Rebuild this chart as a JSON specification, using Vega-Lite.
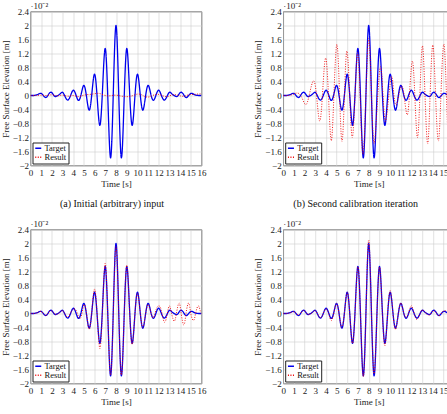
{
  "$schema": "https://vega.github.io/schema/vega-lite/v6.json",
  "background": "white",
  "padding": {"left": 0.5, "top": 0.5, "right": 0, "bottom": 0},
  "datasets": {
    "target": [
      {"t":0,"v":0},{"t":0.25,"v":0},{"t":0.5,"v":0.01},{"t":0.75,"v":0.04},{"t":1,"v":0.06},{"t":1.25,"v":-0.02},{"t":1.5,"v":-0.05},{"t":1.75,"v":0.06},{"t":2,"v":0.08},{"t":2.25,"v":-0.02},{"t":2.5,"v":-0.01},{"t":2.75,"v":0.04},{"t":3,"v":0.09},{"t":3.25,"v":-0.04},{"t":3.5,"v":-0.13},{"t":3.75,"v":0},{"t":4,"v":0.15},{"t":4.25,"v":0.02},{"t":4.5,"v":-0.14},{"t":4.75,"v":0.05},{"t":5,"v":0.29},{"t":5.25,"v":-0.05},{"t":5.5,"v":-0.42},{"t":5.75,"v":0.08},{"t":6,"v":0.61},{"t":6.25,"v":-0.11},{"t":6.5,"v":-0.85},{"t":6.75,"v":0.24},{"t":7,"v":1.34},{"t":7.25,"v":-0.21},{"t":7.5,"v":-1.78},{"t":7.75,"v":0.11},{"t":8,"v":2.0},{"t":8.25,"v":0.11},{"t":8.5,"v":-1.78},{"t":8.75,"v":-0.21},{"t":9,"v":1.34},{"t":9.25,"v":0.24},{"t":9.5,"v":-0.85},{"t":9.75,"v":-0.11},{"t":10,"v":0.61},{"t":10.25,"v":0.08},{"t":10.5,"v":-0.42},{"t":10.75,"v":-0.05},{"t":11,"v":0.29},{"t":11.25,"v":0.05},{"t":11.5,"v":-0.14},{"t":11.75,"v":0.02},{"t":12,"v":0.15},{"t":12.25,"v":0},{"t":12.5,"v":-0.13},{"t":12.75,"v":-0.04},{"t":13,"v":0.09},{"t":13.25,"v":0.04},{"t":13.5,"v":-0.01},{"t":13.75,"v":-0.02},{"t":14,"v":0.08},{"t":14.25,"v":0.06},{"t":14.5,"v":-0.05},{"t":14.75,"v":-0.02},{"t":15,"v":0.06},{"t":15.25,"v":0.04},{"t":15.5,"v":0.01},{"t":15.75,"v":0},{"t":16,"v":0}
    ],
    "ra": [
      {"t":0,"v":0},{"t":0.5,"v":0},{"t":1,"v":0.01},{"t":1.5,"v":0},{"t":2,"v":0.02},{"t":2.5,"v":-0.01},{"t":3,"v":0.01},{"t":3.5,"v":-0.02},{"t":4,"v":0},{"t":4.5,"v":-0.03},{"t":5,"v":0.01},{"t":5.5,"v":0.03},{"t":6,"v":0.05},{"t":6.4,"v":0.06},{"t":6.8,"v":0.02},{"t":7.2,"v":-0.01},{"t":7.6,"v":0},{"t":8,"v":0.01},{"t":8.4,"v":-0.01},{"t":8.8,"v":-0.03},{"t":9.2,"v":-0.03},{"t":9.6,"v":0},{"t":10,"v":0.04},{"t":10.4,"v":0.02},{"t":10.8,"v":-0.04},{"t":11.2,"v":-0.03},{"t":11.6,"v":0.02},{"t":12,"v":0.03},{"t":12.4,"v":-0.01},{"t":12.8,"v":-0.03},{"t":13.2,"v":0.01},{"t":13.6,"v":0.02},{"t":14,"v":-0.01},{"t":14.4,"v":-0.02},{"t":14.8,"v":0.02},{"t":15.2,"v":0.03},{"t":15.6,"v":0.04},{"t":16,"v":0.05}
    ],
    "rb": [
      {"t":0,"v":0},{"t":0.5,"v":0},{"t":0.9,"v":0.03},{"t":1.3,"v":0.07},{"t":1.7,"v":-0.03},{"t":2.1,"v":-0.26},{"t":2.45,"v":0.03},{"t":2.85,"v":0.42},{"t":3.15,"v":-0.1},{"t":3.43,"v":-0.73},{"t":3.7,"v":0.15},{"t":3.98,"v":1.07},{"t":4.25,"v":-0.1},{"t":4.5,"v":-1.29},{"t":4.75,"v":0.05},{"t":5.02,"v":1.46},{"t":5.27,"v":0.05},{"t":5.5,"v":-1.31},{"t":5.73,"v":0},{"t":5.96,"v":1.27},{"t":6.22,"v":0.02},{"t":6.46,"v":-1.2},{"t":6.72,"v":0},{"t":6.97,"v":1.22},{"t":7.22,"v":-0.2},{"t":7.47,"v":-1.68},{"t":7.74,"v":0},{"t":8,"v":1.63},{"t":8.25,"v":0.1},{"t":8.5,"v":-1.37},{"t":8.8,"v":-0.25},{"t":9.1,"v":0.82},{"t":9.33,"v":0.05},{"t":9.56,"v":-0.74},{"t":9.85,"v":-0.1},{"t":10.15,"v":0.54},{"t":10.33,"v":0.1},{"t":10.55,"v":-0.27},{"t":10.8,"v":0},{"t":11.1,"v":0.27},{"t":11.35,"v":-0.1},{"t":11.62,"v":-0.55},{"t":11.85,"v":0.2},{"t":12.1,"v":0.98},{"t":12.33,"v":-0.1},{"t":12.57,"v":-1.2},{"t":12.8,"v":0.1},{"t":13.03,"v":1.42},{"t":13.27,"v":0},{"t":13.52,"v":-1.38},{"t":13.75,"v":0.05},{"t":14,"v":1.44},{"t":14.25,"v":0.05},{"t":14.52,"v":-1.3},{"t":14.77,"v":0.1},{"t":15.03,"v":1.47},{"t":15.27,"v":0.05},{"t":15.5,"v":-1.35},{"t":15.75,"v":0.05},{"t":16,"v":1.4}
    ],
    "rc": [
      {"t":0,"v":0},{"t":0.25,"v":0},{"t":0.5,"v":0.01},{"t":0.75,"v":0.04},{"t":1,"v":0.06},{"t":1.25,"v":-0.02},{"t":1.5,"v":-0.05},{"t":1.75,"v":0.05},{"t":2,"v":0.07},{"t":2.25,"v":-0.01},{"t":2.5,"v":-0.02},{"t":2.75,"v":0.03},{"t":3,"v":0.08},{"t":3.25,"v":-0.03},{"t":3.5,"v":-0.1},{"t":3.75,"v":0.02},{"t":4,"v":0.12},{"t":4.25,"v":0.1},{"t":4.5,"v":-0.1},{"t":4.75,"v":-0.08},{"t":5,"v":0.25},{"t":5.25,"v":-0.02},{"t":5.5,"v":-0.45},{"t":5.75,"v":0.1},{"t":6,"v":0.7},{"t":6.25,"v":-0.1},{"t":6.5,"v":-1.0},{"t":6.75,"v":0.2},{"t":7,"v":1.43},{"t":7.25,"v":-0.2},{"t":7.5,"v":-1.75},{"t":7.75,"v":0.08},{"t":8,"v":1.92},{"t":8.25,"v":0.1},{"t":8.5,"v":-1.75},{"t":8.75,"v":-0.2},{"t":9,"v":1.38},{"t":9.25,"v":0.2},{"t":9.5,"v":-0.88},{"t":9.75,"v":-0.1},{"t":10,"v":0.58},{"t":10.25,"v":0.08},{"t":10.5,"v":-0.4},{"t":10.75,"v":-0.05},{"t":11,"v":0.26},{"t":11.25,"v":0.05},{"t":11.5,"v":-0.12},{"t":11.8,"v":0.15},{"t":12.1,"v":0.2},{"t":12.3,"v":0},{"t":12.55,"v":-0.25},{"t":12.8,"v":0},{"t":13,"v":0.22},{"t":13.2,"v":0},{"t":13.45,"v":-0.22},{"t":13.65,"v":0},{"t":13.9,"v":0.3},{"t":14.1,"v":0},{"t":14.35,"v":-0.33},{"t":14.55,"v":0},{"t":14.8,"v":0.3},{"t":15,"v":0},{"t":15.25,"v":-0.2},{"t":15.45,"v":0},{"t":15.7,"v":0.22},{"t":15.9,"v":0.05},{"t":16,"v":0}
    ],
    "rd": [
      {"t":0,"v":0},{"t":0.25,"v":0},{"t":0.5,"v":0.01},{"t":0.75,"v":0.03},{"t":1,"v":0.05},{"t":1.25,"v":-0.01},{"t":1.5,"v":-0.04},{"t":1.75,"v":0.05},{"t":2,"v":0.08},{"t":2.25,"v":-0.01},{"t":2.5,"v":-0.02},{"t":2.75,"v":0.03},{"t":3,"v":0.08},{"t":3.25,"v":-0.03},{"t":3.5,"v":-0.12},{"t":3.75,"v":0},{"t":4,"v":0.13},{"t":4.25,"v":0},{"t":4.5,"v":-0.2},{"t":4.75,"v":0.03},{"t":5,"v":0.28},{"t":5.25,"v":-0.05},{"t":5.5,"v":-0.4},{"t":5.75,"v":0.08},{"t":6,"v":0.6},{"t":6.25,"v":-0.1},{"t":6.5,"v":-0.85},{"t":6.75,"v":0.22},{"t":7,"v":1.33},{"t":7.25,"v":-0.2},{"t":7.5,"v":-1.8},{"t":7.75,"v":0.12},{"t":8,"v":2.1},{"t":8.25,"v":0.12},{"t":8.5,"v":-1.72},{"t":8.75,"v":-0.2},{"t":9,"v":1.33},{"t":9.25,"v":0.2},{"t":9.5,"v":-0.92},{"t":9.75,"v":-0.1},{"t":10,"v":0.65},{"t":10.25,"v":0.08},{"t":10.5,"v":-0.45},{"t":10.75,"v":-0.05},{"t":11,"v":0.3},{"t":11.25,"v":0.05},{"t":11.5,"v":-0.12},{"t":11.75,"v":0.03},{"t":12,"v":0.22},{"t":12.25,"v":0},{"t":12.5,"v":-0.17},{"t":12.75,"v":-0.04},{"t":13,"v":0.1},{"t":13.25,"v":0.04},{"t":13.5,"v":-0.03},{"t":13.75,"v":-0.03},{"t":14,"v":0.07},{"t":14.25,"v":0.05},{"t":14.5,"v":-0.06},{"t":14.75,"v":-0.02},{"t":15,"v":0.07},{"t":15.25,"v":0.08},{"t":15.5,"v":0.1},{"t":15.75,"v":0.02},{"t":16,"v":0}
    ]
  },
  "columns": 2,
  "spacing": {"row": 64, "column": 81.7},
  "bounds": "flush",
  "resolve": {"legend": {"color": "independent", "strokeDash": "independent"}},
  "concat": [
    {
      "width": 171, "height": 154,
      "title": {"text": "(a) Initial (arbitrary) input", "orient": "bottom", "anchor": "middle", "offset": 10, "dx": -4, "font": "Liberation Serif", "fontSize": 10, "fontWeight": "normal", "color": "#111"},
      "layer": [
        {"data": {"name": "target"}, "mark": {"type": "line", "interpolate": "natural", "strokeWidth": 1.3, "clip": true},
         "encoding": {
           "x": {"field": "t", "type": "quantitative", "scale": {"domain": [0, 16], "nice": false}, "axis": {"title": "Time [s]", "values": [0,1,2,3,4,5,6,7,8,9,10,11,12,13,14,15,16], "format": "d"}},
           "y": {"field": "v", "type": "quantitative", "scale": {"domain": [-2, 2.4], "nice": false, "zero": false}, "axis": {"title": "Free Surface Elevation [m]", "values": [-2,-1.6,-1.2,-0.8,-0.4,0,0.4,0.8,1.2,1.6,2,2.4], "format": "~g"}},
           "color": {"datum": "Target", "scale": {"domain": ["Target", "Result"], "range": ["#0000ee", "#ee0000"]}, "legend": {"title": null}},
           "strokeDash": {"datum": "Target", "scale": {"domain": ["Target", "Result"], "range": [[1, 0], [1, 1.5]]}, "legend": {"title": null}}}},
        {"data": {"name": "ra"}, "mark": {"type": "line", "interpolate": "natural", "strokeWidth": 0.9, "clip": true},
         "encoding": {
           "x": {"field": "t", "type": "quantitative", "scale": {"domain": [0, 16], "nice": false}, "axis": {"title": "Time [s]", "values": [0,1,2,3,4,5,6,7,8,9,10,11,12,13,14,15,16], "format": "d"}},
           "y": {"field": "v", "type": "quantitative", "scale": {"domain": [-2, 2.4], "nice": false, "zero": false}, "axis": {"title": "Free Surface Elevation [m]", "values": [-2,-1.6,-1.2,-0.8,-0.4,0,0.4,0.8,1.2,1.6,2,2.4], "format": "~g"}},
           "color": {"datum": "Result"}, "strokeDash": {"datum": "Result"}}},
        {"data": {"values": [{}]}, "mark": {"type": "text", "align": "left", "baseline": "bottom", "dy": -1, "font": "Liberation Serif", "fontSize": 9, "color": "#222"},
         "encoding": {
           "x": {"datum": 0, "type": "quantitative", "scale": {"domain": [0, 16], "nice": false}, "axis": {"title": "Time [s]", "values": [0,1,2,3,4,5,6,7,8,9,10,11,12,13,14,15,16], "format": "d"}},
           "y": {"datum": 2.4, "type": "quantitative", "scale": {"domain": [-2, 2.4], "nice": false, "zero": false}, "axis": {"title": "Free Surface Elevation [m]", "values": [-2,-1.6,-1.2,-0.8,-0.4,0,0.4,0.8,1.2,1.6,2,2.4], "format": "~g"}},
           "text": {"value": "·10⁻²"}}}
      ]
    },
    {
      "width": 171, "height": 154,
      "title": {"text": "(b) Second calibration iteration", "orient": "bottom", "anchor": "middle", "offset": 10, "dx": -13, "font": "Liberation Serif", "fontSize": 10, "fontWeight": "normal", "color": "#111"},
      "layer": [
        {"data": {"name": "target"}, "mark": {"type": "line", "interpolate": "natural", "strokeWidth": 1.3, "clip": true},
         "encoding": {
           "x": {"field": "t", "type": "quantitative", "scale": {"domain": [0, 16], "nice": false}, "axis": {"title": "Time [s]", "values": [0,1,2,3,4,5,6,7,8,9,10,11,12,13,14,15,16], "format": "d"}},
           "y": {"field": "v", "type": "quantitative", "scale": {"domain": [-2, 2.4], "nice": false, "zero": false}, "axis": {"title": "Free Surface Elevation [m]", "values": [-2,-1.6,-1.2,-0.8,-0.4,0,0.4,0.8,1.2,1.6,2,2.4], "format": "~g"}},
           "color": {"datum": "Target", "legend": {"title": null}}, "strokeDash": {"datum": "Target", "legend": {"title": null}}}},
        {"data": {"name": "rb"}, "mark": {"type": "line", "interpolate": "natural", "strokeWidth": 0.9, "clip": true},
         "encoding": {
           "x": {"field": "t", "type": "quantitative", "scale": {"domain": [0, 16], "nice": false}, "axis": {"title": "Time [s]", "values": [0,1,2,3,4,5,6,7,8,9,10,11,12,13,14,15,16], "format": "d"}},
           "y": {"field": "v", "type": "quantitative", "scale": {"domain": [-2, 2.4], "nice": false, "zero": false}, "axis": {"title": "Free Surface Elevation [m]", "values": [-2,-1.6,-1.2,-0.8,-0.4,0,0.4,0.8,1.2,1.6,2,2.4], "format": "~g"}},
           "color": {"datum": "Result"}, "strokeDash": {"datum": "Result"}}},
        {"data": {"values": [{}]}, "mark": {"type": "text", "align": "left", "baseline": "bottom", "dy": -1, "font": "Liberation Serif", "fontSize": 9, "color": "#222"},
         "encoding": {
           "x": {"datum": 0, "type": "quantitative", "scale": {"domain": [0, 16], "nice": false}, "axis": {"title": "Time [s]", "values": [0,1,2,3,4,5,6,7,8,9,10,11,12,13,14,15,16], "format": "d"}},
           "y": {"datum": 2.4, "type": "quantitative", "scale": {"domain": [-2, 2.4], "nice": false, "zero": false}, "axis": {"title": "Free Surface Elevation [m]", "values": [-2,-1.6,-1.2,-0.8,-0.4,0,0.4,0.8,1.2,1.6,2,2.4], "format": "~g"}},
           "text": {"value": "·10⁻²"}}}
      ]
    },
    {
      "width": 171, "height": 154,
      "layer": [
        {"data": {"name": "target"}, "mark": {"type": "line", "interpolate": "natural", "strokeWidth": 1.3, "clip": true},
         "encoding": {
           "x": {"field": "t", "type": "quantitative", "scale": {"domain": [0, 16], "nice": false}, "axis": {"title": "Time [s]", "values": [0,1,2,3,4,5,6,7,8,9,10,11,12,13,14,15,16], "format": "d"}},
           "y": {"field": "v", "type": "quantitative", "scale": {"domain": [-2, 2.4], "nice": false, "zero": false}, "axis": {"title": "Free Surface Elevation [m]", "values": [-2,-1.6,-1.2,-0.8,-0.4,0,0.4,0.8,1.2,1.6,2,2.4], "format": "~g"}},
           "color": {"datum": "Target", "legend": {"title": null}}, "strokeDash": {"datum": "Target", "legend": {"title": null}}}},
        {"data": {"name": "rc"}, "mark": {"type": "line", "interpolate": "natural", "strokeWidth": 0.9, "clip": true},
         "encoding": {
           "x": {"field": "t", "type": "quantitative", "scale": {"domain": [0, 16], "nice": false}, "axis": {"title": "Time [s]", "values": [0,1,2,3,4,5,6,7,8,9,10,11,12,13,14,15,16], "format": "d"}},
           "y": {"field": "v", "type": "quantitative", "scale": {"domain": [-2, 2.4], "nice": false, "zero": false}, "axis": {"title": "Free Surface Elevation [m]", "values": [-2,-1.6,-1.2,-0.8,-0.4,0,0.4,0.8,1.2,1.6,2,2.4], "format": "~g"}},
           "color": {"datum": "Result"}, "strokeDash": {"datum": "Result"}}},
        {"data": {"values": [{}]}, "mark": {"type": "text", "align": "left", "baseline": "bottom", "dy": -1, "font": "Liberation Serif", "fontSize": 9, "color": "#222"},
         "encoding": {
           "x": {"datum": 0, "type": "quantitative", "scale": {"domain": [0, 16], "nice": false}, "axis": {"title": "Time [s]", "values": [0,1,2,3,4,5,6,7,8,9,10,11,12,13,14,15,16], "format": "d"}},
           "y": {"datum": 2.4, "type": "quantitative", "scale": {"domain": [-2, 2.4], "nice": false, "zero": false}, "axis": {"title": "Free Surface Elevation [m]", "values": [-2,-1.6,-1.2,-0.8,-0.4,0,0.4,0.8,1.2,1.6,2,2.4], "format": "~g"}},
           "text": {"value": "·10⁻²"}}}
      ]
    },
    {
      "width": 171, "height": 154,
      "layer": [
        {"data": {"name": "target"}, "mark": {"type": "line", "interpolate": "natural", "strokeWidth": 1.3, "clip": true},
         "encoding": {
           "x": {"field": "t", "type": "quantitative", "scale": {"domain": [0, 16], "nice": false}, "axis": {"title": "Time [s]", "values": [0,1,2,3,4,5,6,7,8,9,10,11,12,13,14,15,16], "format": "d"}},
           "y": {"field": "v", "type": "quantitative", "scale": {"domain": [-2, 2.4], "nice": false, "zero": false}, "axis": {"title": "Free Surface Elevation [m]", "values": [-2,-1.6,-1.2,-0.8,-0.4,0,0.4,0.8,1.2,1.6,2,2.4], "format": "~g"}},
           "color": {"datum": "Target", "legend": {"title": null}}, "strokeDash": {"datum": "Target", "legend": {"title": null}}}},
        {"data": {"name": "rd"}, "mark": {"type": "line", "interpolate": "natural", "strokeWidth": 0.9, "clip": true},
         "encoding": {
           "x": {"field": "t", "type": "quantitative", "scale": {"domain": [0, 16], "nice": false}, "axis": {"title": "Time [s]", "values": [0,1,2,3,4,5,6,7,8,9,10,11,12,13,14,15,16], "format": "d"}},
           "y": {"field": "v", "type": "quantitative", "scale": {"domain": [-2, 2.4], "nice": false, "zero": false}, "axis": {"title": "Free Surface Elevation [m]", "values": [-2,-1.6,-1.2,-0.8,-0.4,0,0.4,0.8,1.2,1.6,2,2.4], "format": "~g"}},
           "color": {"datum": "Result"}, "strokeDash": {"datum": "Result"}}},
        {"data": {"values": [{}]}, "mark": {"type": "text", "align": "left", "baseline": "bottom", "dy": -1, "font": "Liberation Serif", "fontSize": 9, "color": "#222"},
         "encoding": {
           "x": {"datum": 0, "type": "quantitative", "scale": {"domain": [0, 16], "nice": false}, "axis": {"title": "Time [s]", "values": [0,1,2,3,4,5,6,7,8,9,10,11,12,13,14,15,16], "format": "d"}},
           "y": {"datum": 2.4, "type": "quantitative", "scale": {"domain": [-2, 2.4], "nice": false, "zero": false}, "axis": {"title": "Free Surface Elevation [m]", "values": [-2,-1.6,-1.2,-0.8,-0.4,0,0.4,0.8,1.2,1.6,2,2.4], "format": "~g"}},
           "text": {"value": "·10⁻²"}}}
      ]
    }
  ],
  "config": {
    "view": {"stroke": "#444", "strokeWidth": 0.8},
    "axis": {"grid": true, "gridColor": "#cfcfcf", "gridWidth": 0.6, "domain": false, "ticks": false, "labelFont": "Liberation Serif", "labelFontSize": 9, "labelColor": "#222", "labelFlush": false, "labelOverlap": false, "titleFont": "Liberation Serif", "titleFontSize": 9, "titleFontWeight": "normal", "titleColor": "#222"},
    "axisY": {"labelPadding": 2, "titlePadding": 2},
    "axisX": {"labelPadding": 3, "titlePadding": 2},
    "legend": {"orient": "bottom-left", "offset": 2, "padding": 1.5, "strokeColor": "#222", "fillColor": "white", "labelFont": "Liberation Serif", "labelFontSize": 8.5, "labelColor": "#111", "symbolType": "stroke", "symbolSize": 36, "symbolStrokeWidth": 1.5, "rowPadding": -1, "labelOffset": 2, "cornerRadius": 0}
  }
}
